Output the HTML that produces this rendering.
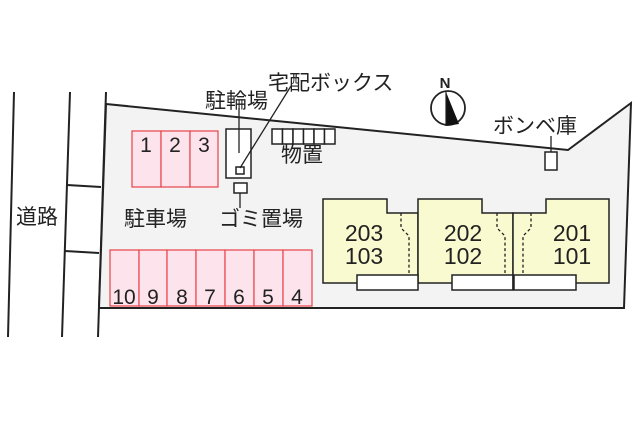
<!DOCTYPE html>
<html><head><meta charset="utf-8"><style>
html,body{margin:0;padding:0;background:#fff;width:640px;height:427px;overflow:hidden}
svg{display:block}
text{font-family:"Liberation Sans","Noto Sans CJK JP",sans-serif;fill:#222}
</style></head><body>
<svg width="640" height="427" viewBox="0 0 640 427" xmlns="http://www.w3.org/2000/svg">
<g stroke="#222" stroke-width="2" fill="none">
<line x1="14" y1="92" x2="8" y2="337"/>
<line x1="70" y1="92" x2="62" y2="337"/>
<line x1="106" y1="92" x2="98" y2="337"/>
<line x1="67" y1="185" x2="101" y2="187"/>
<line x1="65" y1="251" x2="99" y2="253"/>
</g>
<polygon points="106,104 568,150 631,103 624,308 99,308" fill="#f3f3f3" stroke="#222" stroke-width="2"/>
<g fill="#fde4ec" stroke="#e8404a" stroke-width="1.2">
<rect x="132" y="131" width="29" height="56"/><rect x="161" y="131" width="29" height="56"/><rect x="190" y="131" width="28" height="56"/>
<rect x="110" y="250" width="29" height="56"/><rect x="139" y="250" width="28" height="56"/><rect x="167" y="250" width="29" height="56"/><rect x="196" y="250" width="29" height="56"/><rect x="225" y="250" width="29" height="56"/><rect x="254" y="250" width="29" height="56"/><rect x="283" y="250" width="29" height="56"/>
</g>
<g font-size="21" text-anchor="middle">
<text x="146" y="152">1</text><text x="175" y="152">2</text><text x="204" y="152">3</text>
<text x="124" y="304">10</text><text x="153" y="304">9</text><text x="182" y="304">8</text><text x="210" y="304">7</text><text x="239" y="304">6</text><text x="268" y="304">5</text><text x="297" y="304">4</text>
</g>
<g stroke="#222" stroke-width="1.5" fill="#fff">
<rect x="226" y="129" width="25" height="49"/>
<rect x="236" y="167" width="8" height="7"/>
<rect x="234" y="183" width="13" height="10"/>
<rect x="272" y="129" width="10.5" height="15"/><rect x="282.5" y="129" width="10.5" height="15"/><rect x="293" y="129" width="10.5" height="15"/><rect x="303.5" y="129" width="10.5" height="15"/><rect x="314" y="129" width="10.5" height="15"/><rect x="324.5" y="129" width="10.5" height="15"/>
<rect x="545" y="152" width="12" height="18"/>
</g>
<g stroke="#222" stroke-width="1.3">
<line x1="239" y1="108" x2="239" y2="153"/>
<line x1="240" y1="168" x2="291" y2="86"/>
<line x1="240" y1="193" x2="240" y2="208"/>
<line x1="551" y1="136" x2="551" y2="152"/>
</g>
<g fill="#fafad0" stroke="#222" stroke-width="1.5">
<polygon points="323,199 387,199 387,213 418,213 418,283 323,283"/>
<polygon points="418,199 482,199 482,213 513,213 513,283 418,283"/>
<polygon points="513,213 546,213 546,199 609,199 609,283 513,283"/>
</g>
<g fill="#fff" stroke="#222" stroke-width="1.5">
<rect x="357" y="275" width="61" height="15"/>
<rect x="452" y="275" width="61" height="15"/>
<rect x="514" y="275" width="62" height="15"/>
</g>
<line x1="513" y1="275" x2="513" y2="290" stroke="#222" stroke-width="1.5"/>
<g stroke="#222" stroke-width="1.3" fill="none" stroke-dasharray="3,2.5">
<polyline points="401,213 401,228 409,236 409,273"/>
<polyline points="497,213 497,228 505,236 505,273"/>
<polyline points="531,213 531,228 523,236 523,273"/>
</g>
<g font-size="23" text-anchor="middle">
<text x="364" y="241">203</text><text x="364" y="264">103</text>
<text x="463" y="241">202</text><text x="463" y="264">102</text>
<text x="572" y="241">201</text><text x="572" y="264">101</text>
</g>
<circle cx="448" cy="108" r="17" fill="#fff" stroke="#222" stroke-width="1.8"/>
<polygon points="446,92 446,126 459,124" fill="#111"/>
<line x1="446" y1="92" x2="446" y2="126" stroke="#222" stroke-width="1.2"/>
<text x="445" y="88" font-size="15" font-weight="bold" text-anchor="middle">N</text>
<g font-size="21">
<text x="16" y="224">道路</text>
<text x="124" y="226">駐車場</text>
<text x="219" y="226">ゴミ置場</text>
<text x="205" y="108">駐輪場</text>
<text x="268" y="90">宅配ボックス</text>
<text x="281" y="162">物置</text>
<text x="493" y="133">ボンベ庫</text>
</g>
</svg>
</body></html>
